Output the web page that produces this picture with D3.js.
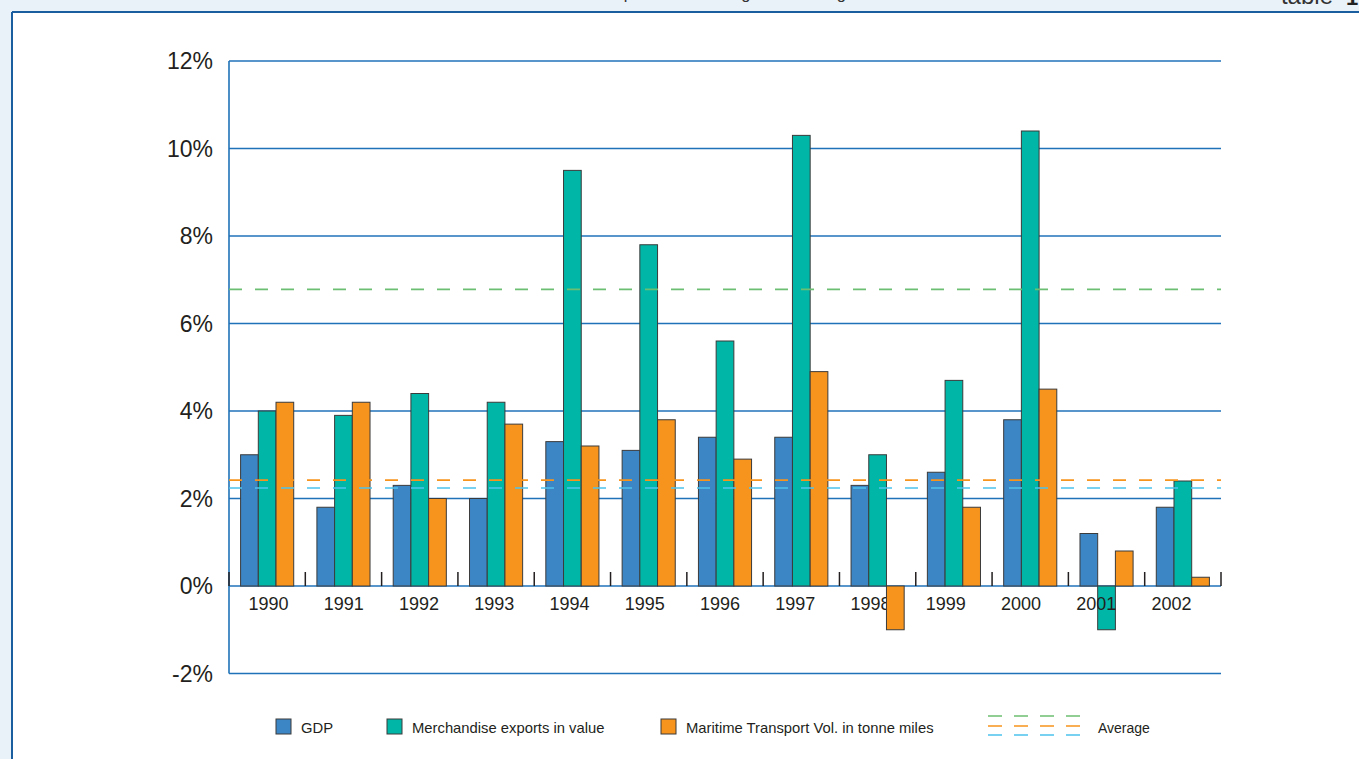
<!DOCTYPE html>
<html>
<head>
<meta charset="utf-8">
<script src="https://cdn.jsdelivr.net/npm/d3@7"></script>
<style>
  html, body { margin: 0; padding: 0; background: #e9f1f9; }
  svg { display: block; }
  text { font-family: "Liberation Sans", Arial, Helvetica, sans-serif; }
</style>
</head>
<body>
<svg id="chart" width="1359" height="759"></svg>
<script>
// Years on the category axis
const years = ["1990","1991","1992","1993","1994","1995","1996","1997","1998","1999","2000","2001","2002"];

// Annual percentage change per series
const gdp      = [3.0, 1.8, 2.3, 2.0, 3.3, 3.1, 3.4, 3.4, 2.3, 2.6, 3.8, 1.2, 1.8];
const exports  = [4.0, 3.9, 4.4, 4.2, 9.5, 7.8, 5.6, 10.3, 3.0, 4.7, 10.4, -1.0, 2.4];
const maritime = [4.2, 4.2, 2.0, 3.7, 3.2, 3.8, 2.9, 4.9, -1.0, 1.8, 4.5, 0.8, 0.2];

// Period averages shown as dashed lines
const averages = [6.78, 2.42, 2.24];
const averageColors = ["#6cbf72", "#f7941d", "#4ec2ee"];

// Value axis ticks
const yTicks = [-2, 0, 2, 4, 6, 8, 10, 12];

const seriesNames = ["GDP", "Merchandise exports in value", "Maritime Transport Vol. in tonne miles"];
const seriesColors = ["#3d86c6", "#00b7a7", "#f7941d"];
const seriesValues = [gdp, exports, maritime];

const svg = d3.select("#chart");
const W = 1359, H = 759;

// Page frame with the running header above it
svg.append("rect").attr("width", W).attr("height", H).attr("fill", "#e9f1f9");
svg.append("rect").attr("x", 13).attr("y", 13).attr("width", W - 13).attr("height", H - 13).attr("fill", "#ffffff");
svg.append("text")
  .attr("x", 589).attr("y", -1)
  .attr("font-size", 16.5).attr("fill", "#333")
  .attr("font-family", "'Open Sans', sans-serif")
  .text("Comparative annual growth rates global trade and GDP");
svg.append("text")
  .attr("x", 1333).attr("y", 4).attr("text-anchor", "end")
  .attr("font-size", 24).attr("fill", "#333")
  .attr("font-family", "'Open Sans', sans-serif")
  .text("table");
svg.append("text")
  .attr("x", 1346).attr("y", 5)
  .attr("font-size", 22).attr("font-weight", "bold").attr("fill", "#222")
  .attr("font-family", "'Open Sans', sans-serif")
  .text("1");
svg.append("line").attr("x1", 12).attr("x2", W).attr("y1", 12).attr("y2", 12)
  .attr("stroke", "#1b5e9f").attr("stroke-width", 2);
svg.append("line").attr("x1", 12).attr("x2", 12).attr("y1", 12).attr("y2", H)
  .attr("stroke", "#1b5e9f").attr("stroke-width", 2);

// Scales
const plotLeft = 229, plotRight = 1221;
const y = d3.scaleLinear().domain([-2, 12]).range([673.5, 61]);
const x = d3.scaleBand().domain(years).range([plotLeft, plotRight]).padding(0);
const xs = d3.scaleBand().domain(d3.range(3)).range([0, x.bandwidth()]).paddingInner(0).paddingOuter(0.655);
// Year labels sit on a slightly tighter spacing than the bar groups
const xLabel = d3.scalePoint().domain(years).range([268.5, 1171.5]);

// Gridlines
svg.append("g").selectAll("line").data(yTicks).join("line")
  .attr("x1", plotLeft).attr("x2", plotRight)
  .attr("y1", d => y(d)).attr("y2", d => y(d))
  .attr("stroke", "#1f72b8").attr("stroke-width", 1.6);
svg.append("line")
  .attr("x1", plotLeft).attr("x2", plotLeft)
  .attr("y1", y(12)).attr("y2", y(-2))
  .attr("stroke", "#1f72b8").attr("stroke-width", 1.6);

// Value axis labels
svg.append("g").selectAll("text").data(yTicks).join("text")
  .attr("x", 213).attr("y", d => y(d)).attr("dy", "0.35em")
  .attr("text-anchor", "end").attr("font-size", 23).attr("fill", "#231f20")
  .text(d => d + "%");

// Category separators on the zero line
const boundaries = years.map(d => x(d)).concat([plotRight]);
svg.append("g").selectAll("line").data(boundaries).join("line")
  .attr("x1", d => d).attr("x2", d => d)
  .attr("y1", y(0) - 14).attr("y2", y(0))
  .attr("stroke", "#231f20").attr("stroke-width", 1.5);

// Bars, one layer per series so the year labels can sit between them
const barLayer = s => svg.append("g").selectAll("rect")
  .data(years.map((yr, i) => ({ year: yr, s, v: seriesValues[s][i] })))
  .join("rect")
  .attr("x", d => x(d.year) + xs(d.s))
  .attr("width", xs.bandwidth())
  .attr("y", d => y(Math.max(0, d.v)))
  .attr("height", d => Math.abs(y(d.v) - y(0)))
  .attr("fill", seriesColors[s])
  .attr("stroke", "#3b3b3b").attr("stroke-width", 1);

barLayer(0);
barLayer(1);

// Year labels
svg.append("g").selectAll("text").data(years).join("text")
  .attr("x", d => xLabel(d)).attr("y", y(0) + 24)
  .attr("text-anchor", "middle").attr("font-size", 18).attr("fill", "#231f20")
  .text(d => d);

barLayer(2);

// Average lines
svg.append("g").selectAll("line").data(averages).join("line")
  .attr("x1", plotLeft).attr("x2", plotRight)
  .attr("y1", d => y(d)).attr("y2", d => y(d))
  .attr("stroke", (d, i) => averageColors[i]).attr("stroke-width", 1.6)
  .attr("stroke-dasharray", "13,13");

// Legend
const legendX = [276, 387, 661];
const lg = svg.append("g");
seriesNames.forEach((name, i) => {
  lg.append("rect").attr("x", legendX[i]).attr("y", 719).attr("width", 15).attr("height", 15)
    .attr("fill", seriesColors[i]).attr("stroke", "#3b3b3b").attr("stroke-width", 1);
  lg.append("text").attr("x", legendX[i] + 25).attr("y", 733)
    .attr("font-size", 14.8).attr("fill", "#231f20").text(name);
});
[716, 726, 735].forEach((ly, i) => {
  lg.append("line").attr("x1", 988).attr("x2", 1082).attr("y1", ly).attr("y2", ly)
    .attr("stroke", averageColors[i]).attr("stroke-width", 1.6).attr("stroke-dasharray", "14,12");
});
lg.append("text").attr("x", 1098).attr("y", 733)
  .attr("font-size", 14).attr("fill", "#231f20").text("Average");
</script>
</body>
</html>
